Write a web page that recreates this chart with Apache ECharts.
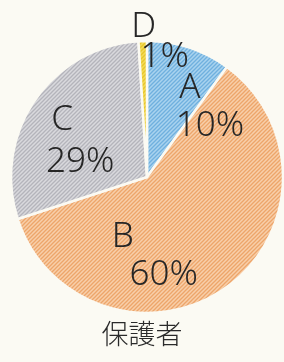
<!DOCTYPE html>
<html>
<head>
<meta charset="utf-8">
<script src="https://cdn.jsdelivr.net/npm/echarts@6/dist/echarts.min.js"></script>
<style>
  html, body { margin: 0; padding: 0; background: #fbfaf3; }
  #chart { width: 284px; height: 362px; }
</style>
</head>
<body>
<div id="chart"></div>
<script>
const categories = ['A', 'B', 'C', 'D'];
const values = [10, 60, 29, 1];
const groupLabel = '保護者';

// 斜線ハッチング
const stripes = (bg, line) => {
  const c = document.createElement('canvas');
  c.width = 4; c.height = 4;
  const ctx = c.getContext('2d');
  ctx.fillStyle = bg;
  ctx.fillRect(0, 0, 4, 4);
  ctx.strokeStyle = line;
  ctx.lineWidth = 1.3;
  ctx.beginPath();
  ctx.moveTo(-1, 5); ctx.lineTo(5, -1);
  ctx.moveTo(-1, 1); ctx.lineTo(1, -1);
  ctx.moveTo(3, 5); ctx.lineTo(5, 3);
  ctx.stroke();
  return { image: c, repeat: 'repeat' };
};

const fills = [
  stripes('#a9d3ef', '#6fb0de'),
  stripes('#f8cfaa', '#eda56a'),
  stripes('#d9d9dd', '#b4b4bb'),
  stripes('#f3dc5a', '#e8c52a')
];
// ラベル位置の微調整
const offsets = [[41, -2], [-25, 22], [-8, 4], [20, -64]];
const namePads = [40, 82, 36, 42];
const lineHeights = [38, 38, 42, 30];

const chart = echarts.init(document.getElementById('chart'));
chart.setOption({
  backgroundColor: '#fbfaf3',
  animation: false,
  title: {
    text: groupLabel,
    left: 'center',
    top: 315,
    textStyle: { fontFamily: 'Noto Sans CJK JP', fontSize: 27, fontWeight: 300, color: '#2a2a2a' }
  },
  series: [{
    type: 'pie',
    center: [147, 177],
    radius: [0, 136],
    startAngle: 90,
    clockwise: true,
    silent: true,
    minShowLabelAngle: 0,
    itemStyle: { borderColor: '#fbfaf3', borderWidth: 2.5 },
    labelLine: { show: false },
    labelLayout: { hideOverlap: false },
    data: categories.map((name, i) => ({
      name,
      value: values[i],
      itemStyle: { color: fills[i] },
      label: {
        show: true,
        position: 'inside',
        offset: offsets[i],
        overflow: 'none',
        formatter: p => '{n|' + p.name + '}\n{v|' + p.value + '%}',
        rich: {
          n: {
            fontFamily: 'Noto Sans', fontSize: 35, fontWeight: 300, lineHeight: lineHeights[i],
            color: '#262626', padding: [0, namePads[i], 0, 0]
          },
          v: {
            fontFamily: 'Noto Sans', fontSize: 35, fontWeight: 300, lineHeight: lineHeights[i],
            color: '#262626'
          }
        }
      }
    }))
  }]
});
</script>
</body>
</html>
